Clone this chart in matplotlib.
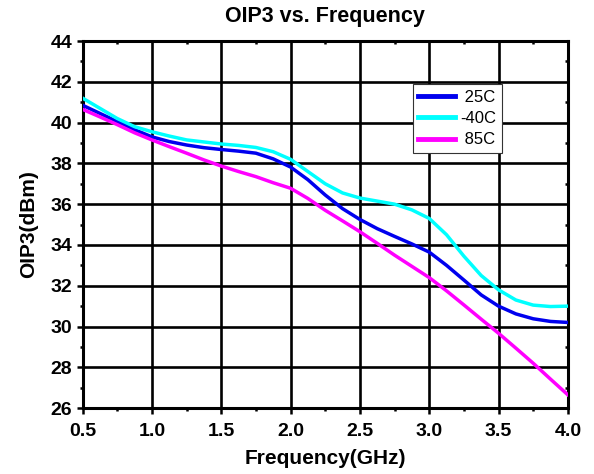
import numpy as np
import matplotlib
matplotlib.use("Agg")
import matplotlib.pyplot as plt

plt.rcParams['font.family'] = ['Liberation Sans', 'DejaVu Sans']

# OIP3 (dBm) versus frequency for three temperatures, every 0.125 GHz
freq_ghz = [0.5, 0.625, 0.75, 0.875, 1.0, 1.125, 1.25, 1.375, 1.5, 1.625,
            1.75, 1.875, 2.0, 2.125, 2.25, 2.375, 2.5, 2.625, 2.75, 2.875,
            3.0, 3.125, 3.25, 3.375, 3.5, 3.625, 3.75, 3.875, 4.0]
oip3_25c = [40.85, 40.45, 40.05, 39.65, 39.3, 39.07, 38.9, 38.77, 38.68, 38.6,
            38.5, 38.22, 37.82, 37.2, 36.45, 35.78, 35.25, 34.8, 34.42, 34.05,
            33.65, 33.0, 32.28, 31.55, 31.0, 30.62, 30.38, 30.25, 30.2]
oip3_m40c = [41.2, 40.7, 40.2, 39.8, 39.55, 39.34, 39.15, 39.05, 38.95, 38.88,
             38.78, 38.57, 38.2, 37.6, 37.0, 36.55, 36.3, 36.15, 36.0, 35.72,
             35.3, 34.5, 33.45, 32.5, 31.8, 31.3, 31.05, 30.98, 31.0]
oip3_85c = [40.65, 40.28, 39.9, 39.5, 39.15, 38.82, 38.5, 38.17, 37.87, 37.6,
            37.35, 37.05, 36.78, 36.28, 35.7, 35.18, 34.65, 34.08, 33.5, 32.95,
            32.4, 31.75, 31.06, 30.36, 29.67, 28.94, 28.2, 27.42, 26.65]

series = [
    (" 25C", oip3_25c, "#0000EE"),
    ("-40C", oip3_m40c, "#00FFFF"),
    (" 85C", oip3_85c, "#FF00FF"),
]

fig = plt.figure(figsize=(5.94, 4.74), dpi=100)
ax = fig.add_axes([0.139, 0.139, 0.817, 0.7745])

for label, vals, color in series:
    ax.plot(freq_ghz, vals, color=color, linewidth=2.5, label=label,
            solid_joinstyle='round', zorder=3)

ax.set_xlim(0.5, 4.0)
ax.set_ylim(26, 44)
ax.set_xticks(np.arange(0.5, 4.01, 0.5))
ax.set_yticks(np.arange(26, 44.1, 2))
ax.set_xticks(np.arange(0.75, 4.0, 0.5), minor=True)
ax.set_yticks(np.arange(27, 44, 2), minor=True)
ax.xaxis.set_major_formatter(plt.FormatStrFormatter('%.1f'))

ax.grid(True, which='major', color='black', linewidth=1.9, zorder=1)
for s in ax.spines.values():
    s.set_linewidth(2.2)

ax.tick_params(which='major', direction='out', length=4.5, width=1.8,
               labelsize=14, pad=3)
ax.tick_params(axis='x', which='major', pad=6.5)
ax.tick_params(which='minor', direction='out', length=2.5, width=1.8)
for lab in ax.get_xticklabels() + ax.get_yticklabels():
    lab.set_fontweight('bold')

# mirrored minor ticks on top and right, pointing inward
top = ax.secondary_xaxis('top')
top.set_xticks([])
top.set_xticks(np.arange(0.75, 4.0, 0.5), minor=True)
top.tick_params(which='minor', direction='in', length=2.5, width=1.8, labeltop=False)
right = ax.secondary_yaxis('right')
right.set_yticks([])
right.set_yticks(np.arange(27, 44, 2), minor=True)
right.tick_params(which='minor', direction='in', length=2.5, width=1.8, labelright=False)
top.spines['top'].set_visible(False)
right.spines['right'].set_visible(False)

ax.set_title("OIP3 vs. Frequency", fontsize=15.5, fontweight='bold', pad=14)
ax.set_xlabel("Frequency(GHz)", fontsize=15, fontweight='bold', labelpad=6)
ax.set_ylabel("OIP3(dBm)", fontsize=15, fontweight='bold', labelpad=9)

leg = ax.legend(loc='upper left', bbox_to_anchor=(0.680, 0.883), fontsize=12,
                frameon=True, fancybox=False, shadow=False, framealpha=1,
                edgecolor='#333333', handlelength=2.2, handletextpad=0.3,
                borderpad=0.35, labelspacing=0.38, borderaxespad=0)
leg.get_frame().set_linewidth(0.8)
for line in leg.get_lines():
    line.set_linewidth(3.5)
leg.set_zorder(5)

fig.savefig("out.png", dpi=100)
